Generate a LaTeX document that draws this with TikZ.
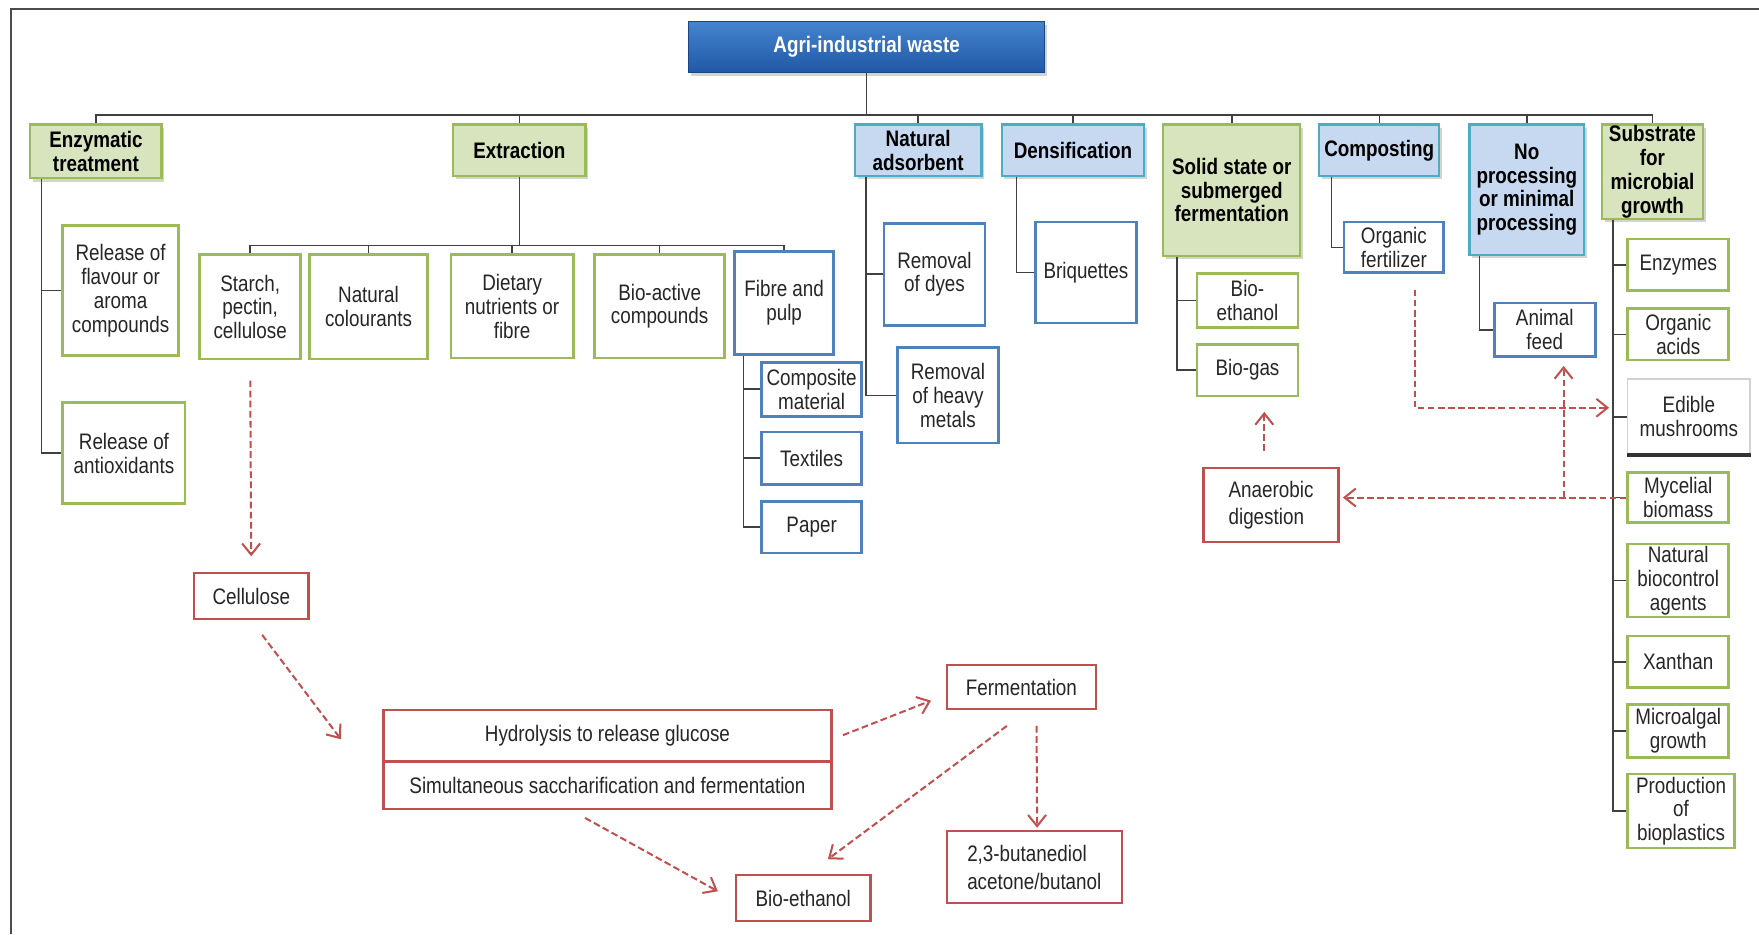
\documentclass[tikz,border=0pt]{standalone}
\usepackage{fontspec}
\setmainfont{Liberation Sans}[FakeStretch=0.84]
\usepackage{xcolor}
\usetikzlibrary{shapes,arrows.meta,positioning,calc,shadows}

\definecolor{hdgreen}{HTML}{D7E4BD}
\definecolor{lngreen}{HTML}{9BBB59}
\definecolor{hdblue}{HTML}{C6D9F1}
\definecolor{lnteal}{HTML}{4BACC6}
\definecolor{lnblue}{HTML}{4F81BD}
\definecolor{lnred}{HTML}{C0504D}
\definecolor{treegray}{HTML}{404040}
\definecolor{roottop}{HTML}{4584D0}
\definecolor{rootbot}{HTML}{2058A4}

\begin{document}
\begin{tikzpicture}[x=0.5pt, y=-0.5pt,
    every node/.style={align=center, inner sep=1pt, text=black!85,
        font=\fontsize{10}{10.6}\selectfont},
    hdbox/.style={rectangle, text=black, font=\fontsize{10}{10.6}\selectfont\bfseries,
        drop shadow={shadow xshift=1.2pt, shadow yshift=-1.5pt, opacity=0.35}},
    greenhd/.style={hdbox, fill=hdgreen, draw=lngreen, line width=1pt},
    bluehd/.style={hdbox, fill=hdblue, draw=lnteal, line width=1pt},
    greenbox/.style={rectangle, fill=white, draw=lngreen, line width=1.2pt},
    bluebox/.style={rectangle, fill=white, draw=lnblue, line width=1.2pt},
    mushbox/.style={rectangle, fill=white, draw=gray!35, line width=0.6pt},
    redbox/.style={rectangle, fill=white, draw=lnred, line width=1.1pt},
    tree/.style={draw=treegray, line width=0.7pt},
    flow/.style={draw=lnred, dash pattern=on 3pt off 1.5pt, line width=0.9pt,
        -{Straight Barb[length=5pt,width=8pt]}}
]
\useasboundingbox (0,0) rectangle (1568,833);
\draw[gray!60!black, line width=0.8pt] (10,833) -- (10,8) -- (1568,8);

% root
\node[rectangle, draw=rootbot!80!black, top color=roottop, bottom color=rootbot,
    text=white, font=\fontsize{10}{10.6}\selectfont\bfseries, minimum width=158.5pt, minimum height=23pt,
    drop shadow={shadow xshift=1.2pt, shadow yshift=-1.5pt, opacity=0.35}] (root) at (772.5,42) {Agri-industrial waste};

% first level
\node[greenhd, minimum width=58.5pt, minimum height=24pt] (enz) at (85.5,135) {Enzymatic\\treatment};
\node[greenhd, minimum width=59pt, minimum height=23pt] (extr) at (463,134) {Extraction};
\node[bluehd, minimum width=56.5pt, minimum height=23pt] (nads) at (818.5,134) {Natural\\adsorbent};
\node[bluehd, minimum width=63.5pt, minimum height=23pt] (dens) at (956.5,134) {Densification};
\node[greenhd, minimum width=61pt, minimum height=58.5pt] (ssf) at (1098,169.5) {Solid state or\\submerged\\fermentation};
\node[bluehd, minimum width=53.5pt, minimum height=23pt] (comp) at (1229.5,134) {Composting};
\node[bluehd, minimum width=51pt, minimum height=58pt] (noproc) at (1361,169) {No\\processing\\or minimal\\processing};
\node[greenhd, minimum width=45pt, minimum height=42pt, inner sep=0pt] (subst) at (1473,153) {Substrate\\for\\microbial\\growth};

% enzymatic treatment
\node[greenbox, minimum width=51.5pt, minimum height=58pt] (flav) at (107.5,259) {Release of\\flavour or\\aroma\\compounds};
\node[greenbox, minimum width=54.5pt, minimum height=45pt] (antiox) at (110.5,404) {Release of\\antioxidants};

% extraction
\node[greenbox, minimum width=45pt, minimum height=46.5pt] (starch) at (223,273.5) {Starch,\\pectin,\\cellulose};
\node[greenbox, minimum width=52.5pt, minimum height=46.5pt] (colour) at (328.5,273.5) {Natural\\colourants};
\node[greenbox, minimum width=54.5pt, minimum height=46pt] (diet) at (456.5,273) {Dietary\\nutrients or\\fibre};
\node[greenbox, minimum width=58pt, minimum height=46pt] (bioact) at (588,273) {Bio-active\\compounds};
\node[bluebox, minimum width=44pt, minimum height=46pt] (fibre) at (699,270) {Fibre and\\pulp};
\node[bluebox, minimum width=44.5pt, minimum height=24pt] (compo) at (723.5,347) {Composite\\material};
\node[bluebox, minimum width=44.5pt, minimum height=23.5pt] (textile) at (723.5,408.5) {Textiles};
\node[bluebox, minimum width=44.5pt, minimum height=23pt] (paper) at (723.5,470) {Paper};

% adsorbent, densification
\node[bluebox, minimum width=45pt, minimum height=45.5pt] (dyes) at (833,244.5) {Removal\\of dyes};
\node[bluebox, minimum width=45pt, minimum height=42.5pt] (metals) at (845,352.5) {Removal\\of heavy\\metals};
\node[bluebox, minimum width=45pt, minimum height=45pt] (briq) at (968,243) {Briquettes};

% fermentation, composting, no processing
\node[greenbox, minimum width=45pt, minimum height=24pt] (bioeth) at (1112,268) {Bio-\\ethanol};
\node[greenbox, minimum width=45pt, minimum height=23pt] (biogas) at (1112,330) {Bio-gas};
\node[bluebox, minimum width=44.5pt, minimum height=22.5pt] (ofert) at (1242.5,220.5) {Organic\\fertilizer};
\node[bluebox, minimum width=45pt, minimum height=24pt] (afeed) at (1377,294) {Animal\\feed};

% substrate for microbial growth
\node[greenbox, minimum width=45pt, minimum height=23pt] (enzy) at (1496,236) {Enzymes};
\node[greenbox, minimum width=45pt, minimum height=23pt] (oacid) at (1496,298) {Organic\\acids};
\node[mushbox, minimum width=54.5pt, minimum height=33.5pt] (mush) at (1505.5,371.5) {Edible\\mushrooms};
\draw[black!80, line width=1.8pt] (mush.south west) -- (mush.south east);
\node[greenbox, minimum width=45pt, minimum height=22.5pt] (myc) at (1496,443.5) {Mycelial\\biomass};
\node[greenbox, minimum width=45pt, minimum height=32.5pt] (bioc) at (1496,517.5) {Natural\\biocontrol\\agents};
\node[greenbox, minimum width=45pt, minimum height=23pt] (xanth) at (1496,590) {Xanthan};
\node[greenbox, minimum width=45pt, minimum height=23.5pt] (micro) at (1496,651.5) {Microalgal\\growth};
\node[greenbox, minimum width=47.5pt, minimum height=33pt] (biopl) at (1498.5,723) {Production\\of\\bioplastics};

% red process boxes
\node[redbox, minimum width=51pt, minimum height=20.5pt] (cell) at (224,531.5) {Cellulose};
\node[redbox, minimum width=199.5pt, minimum height=23pt] (hydro) at (541.5,656) {Hydrolysis to release glucose};
\node[redbox, minimum width=199.5pt, minimum height=21pt] (simsf) at (541.5,700) {Simultaneous saccharification and fermentation};
\node[redbox, minimum width=66.5pt, minimum height=19.5pt] (ferm) at (910.5,612.5) {Fermentation};
\node[redbox, minimum width=60pt, minimum height=20.5pt] (bioeth2) at (716,800.5) {Bio-ethanol};
\node[redbox, minimum width=78pt, minimum height=32pt, align=left,
    font=\fontsize{10}{12.5}\selectfont] (buta) at (922,773) {2,3-butanediol\\acetone/butanol};
\node[redbox, minimum width=60pt, minimum height=33pt, align=left,
    font=\fontsize{10}{12}\selectfont] (anae) at (1133,450) {Anaerobic\\digestion};

% tree lines
\foreach \h in {enz,extr,nads,dens,ssf,comp,noproc,subst}
    \draw[tree] (root.south) -- ++(0,37) -| (\h.north);
\foreach \c in {starch,colour,diet,bioact,fibre}
    \draw[tree] (extr.south) -- ++(0,61) -| (\c.north);
\foreach \c in {flav,antiox}
    \draw[tree] ($(enz.south west)+(11,0)$) |- (\c.west);
\foreach \c in {compo,textile,paper}
    \draw[tree] ($(fibre.south west)+(9,0)$) |- (\c.west);
\foreach \c in {dyes,metals}
    \draw[tree] ($(nads.south west)+(11,0)$) |- (\c.west);
\draw[tree] ($(dens.south west)+(14,0)$) |- (briq.west);
\foreach \c in {bioeth,biogas}
    \draw[tree] ($(ssf.south west)+(13,0)$) |- (\c.west);
\draw[tree] ($(comp.south west)+(12,0)$) |- (ofert.west);
\draw[tree] ($(noproc.south west)+(10,0)$) |- (afeed.west);
\foreach \c in {enzy,oacid,mush,myc,bioc,xanth,micro,biopl}
    \draw[tree] ($(subst.south west)+(11,0)$) |- (\c.west);

% red flows
\draw[flow, shorten <=9pt, shorten >=7pt] (starch.south) -- (cell.north);
\draw[flow, shorten <=8pt] (cell.south) -- ($(hydro.west)+(-37,3)$);
\draw[flow, shorten <=5pt, shorten >=7pt] ($(hydro.east)+(0,3)$) -- ($(ferm.west)+(0,7)$);
\draw[flow] ($(ferm.south)+(-13,14)$) -- ($(bioeth2.north)+(22,-13)$);
\draw[flow] ($(ferm.south)+(13.5,14)$) -- ($(buta.north)+(2.5,-2)$);
\draw[flow] ($(simsf.south)+(-20,7)$) -- ($(bioeth2.west)+(-15,-6)$);
\draw[flow] ($(anae.north)+(-6,-14)$) -- ($(biogas.south)+(15,13)$);
\draw[flow] ($(ofert.south)+(18.5,14)$) |- ($(mush.west)+(-16,-8)$);
\draw[flow, shorten >=1.5pt] (myc.west) -- (myc.west -| anae.east);
\coordinate (split) at ($(myc.west)+(-56,0)$);
\draw[flow, shorten >=3.5pt] (split) -- (split |- afeed.south);
\end{tikzpicture}
\end{document}
